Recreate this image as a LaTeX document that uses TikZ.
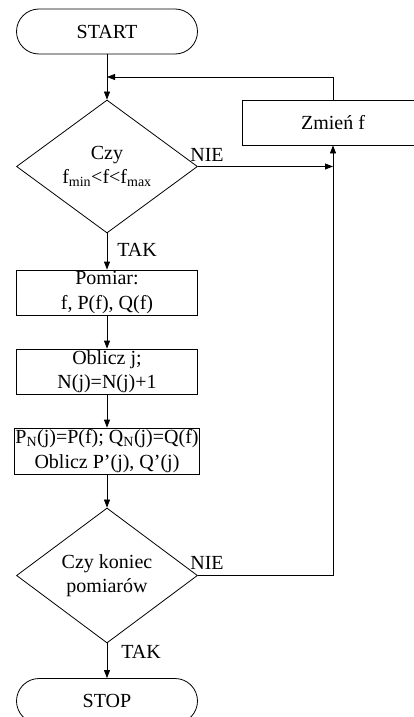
\documentclass[tikz,border=0pt]{standalone}
\usepackage{fontspec}
\setmainfont{Liberation Serif}
\usetikzlibrary{arrows.meta,positioning,shapes.geometric,calc}

\begin{document}
\begin{tikzpicture}[x=1pt,y=-1pt,line width=0.8pt,
  txt/.style={font=\fontsize{20}{24.5}\selectfont, align=center},
  term/.style={txt, draw, rectangle, rounded corners=22.5pt, minimum width=181pt, minimum height=45pt},
  box/.style={txt, draw, rectangle, minimum width=181pt, minimum height=45pt, inner sep=1pt},
  cond/.style={txt, draw, diamond, minimum width=181pt, minimum height=133pt, inner sep=0pt},
  arr/.style={-{Triangle[length=8pt,width=6pt]}}]
\useasboundingbox (0,0) rectangle (414,717);
\clip (0,0) rectangle (414,717);
% main column
\node[term] (start) at (107,31.5) {START};
\node[cond] (test1) at (107,166.5) {Czy\\f\textsubscript{min}<f<f\textsubscript{max}};
\node[box] (meas) at (107,292.5) {Pomiar:\\f, P(f), Q(f)};
\node[box] (calc) at (107,371.5) {Oblicz j;\\N(j)=N(j)+1};
\node[box, minimum height=46pt] (upd) at (107,451) {P\textsubscript{N}(j)=P(f); Q\textsubscript{N}(j)=Q(f)\\Oblicz P’(j), Q’(j)};
\node[cond, minimum height=135pt] (test2) at (107,575.5) {Czy koniec\\pomiarów};
\node[term] (stop) at (107,701) {STOP};
% loop
\node[box, minimum width=182pt] (chg) at (333,122.5) {Zmień f};
\coordinate (merge) at (107,77);
% labels
\node[txt] (nie1) at (207,155) {NIE};
\node[txt] (tak1) at (137,250) {TAK};
\node[txt] (nie2) at (207,563) {NIE};
\node[txt] (tak2) at (141,652) {TAK};
% connectors
\draw[arr] (start) -- (test1);
\draw[arr] (test1) -- (meas);
\draw[arr] (meas) -- (calc);
\draw[arr] (calc) -- (upd);
\draw[arr] (upd) -- (test2);
\draw[arr] (test2) -- (stop);
\draw[arr] (chg.north) |- (merge);
\draw[arr] (test1.east) -- (test1.east -| chg.south);
\draw[arr] (test2.east) -| (chg.south);
\end{tikzpicture}
\end{document}
